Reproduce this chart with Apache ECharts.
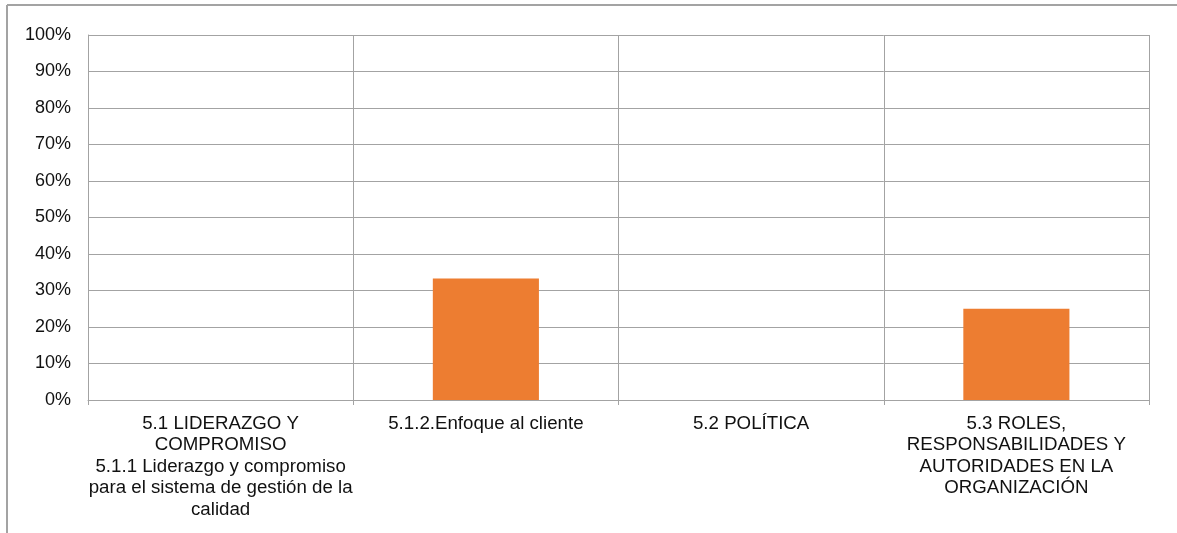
<!DOCTYPE html>
<html>
<head>
<meta charset="utf-8">
<script src="https://cdn.jsdelivr.net/npm/echarts@6/dist/echarts.min.js"></script>
<style>
  html, body { margin: 0; padding: 0; background: #fff; }
  #chart { width: 1177px; height: 533px; }
</style>
</head>
<body>
<div id="chart"></div>
<script>
// Clause categories (line breaks as shown under the axis)
const categories = [
  '5.1 LIDERAZGO Y\nCOMPROMISO\n5.1.1 Liderazgo y compromiso\npara el sistema de gestión de la\ncalidad',
  '5.1.2.Enfoque al cliente',
  '5.2 POLÍTICA',
  '5.3 ROLES,\nRESPONSABILIDADES Y\nAUTORIDADES EN LA\nORGANIZACIÓN'
];
// Share per clause, in percent
const values = [0, 33.3, 0, 25];

const gridColor = '#a3a3a3';
const chart = echarts.init(document.getElementById('chart'), null, { renderer: 'canvas' });

chart.setOption({
  animation: false,
  backgroundColor: '#ffffff',
  textStyle: { fontFamily: '"Liberation Sans", Arial, sans-serif' },
  grid: { left: 88, right: 28, top: 35, bottom: 133, containLabel: false },
  graphic: [
    // chart frame (left and top edges)
    { type: 'line', shape: { x1: 7, y1: 5, x2: 7, y2: 533 }, style: { stroke: gridColor, lineWidth: 2 } },
    { type: 'line', shape: { x1: 7, y1: 5, x2: 1177, y2: 5 }, style: { stroke: gridColor, lineWidth: 2 } }
  ],
  xAxis: {
    type: 'category',
    data: categories,
    boundaryGap: true,
    axisLine: { show: true, lineStyle: { color: gridColor, width: 1 } },
    axisTick: { show: true, length: 5, lineStyle: { color: gridColor } },
    splitLine: { show: true, lineStyle: { color: gridColor, width: 1 } },
    axisLabel: {
      interval: 0,
      color: '#111',
      fontSize: 18.7,
      lineHeight: 21.5,
      margin: 13,
      align: 'center'
    }
  },
  yAxis: {
    type: 'value',
    min: 0,
    max: 100,
    interval: 10,
    axisLine: { show: true, lineStyle: { color: gridColor, width: 1 } },
    axisTick: { show: false },
    splitLine: { show: true, lineStyle: { color: gridColor, width: 1 } },
    axisLabel: {
      color: '#111',
      fontSize: 18,
      margin: 17,
      formatter: v => v + '%'
    }
  },
  series: [{
    type: 'bar',
    data: values,
    barWidth: '40%',
    itemStyle: { color: '#ED7D31' }
  }]
});
</script>
</body>
</html>
